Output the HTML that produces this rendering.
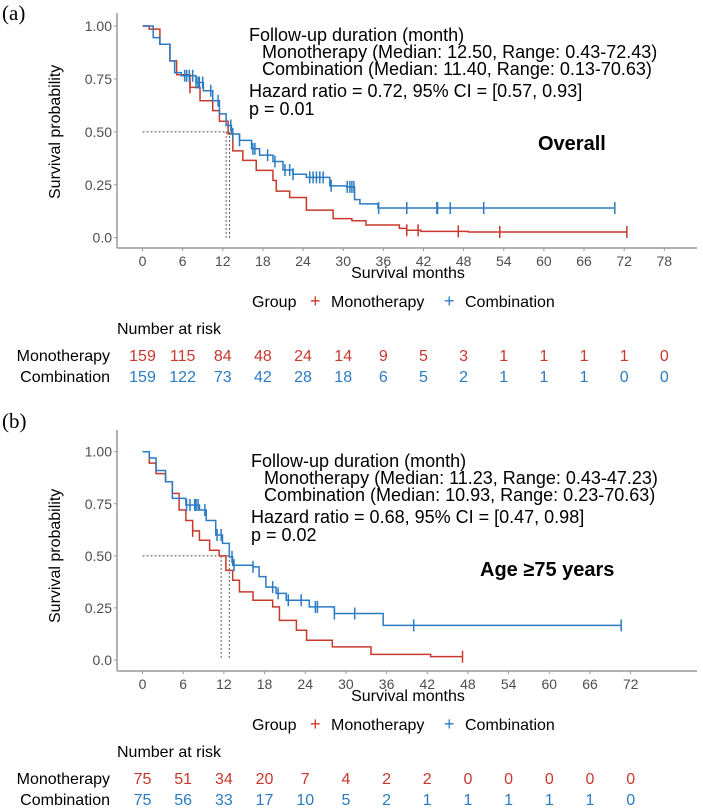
<!DOCTYPE html>
<html><head><meta charset="utf-8">
<style>
body{margin:0;background:#fff;}
svg{display:block;font-family:"Liberation Sans",Arial,sans-serif;}
</style></head>
<body>
<svg id="chart" width="703" height="809" viewBox="0 0 703 809"></svg>
<script>
// ---- Panel A data ----
const aTicks = [0,6,12,18,24,30,36,42,48,54,60,66,72,78];
const aMonoT = [0,1,2.6,4.1,5.1,7.1,8.6,10.5,11.5,12.8,13.5,15,17,19.5,20,22,24.5,28.5,31.3,33.4,38.4,39.5,41.6,48.7,72.4];
const aMonoS = [1,0.985,0.914,0.835,0.77,0.71,0.647,0.6,0.55,0.49,0.41,0.365,0.318,0.27,0.22,0.19,0.13,0.09,0.08,0.06,0.044,0.035,0.03,0.027,0.027];
const aMonoCens = [7.1,39.5,41.2,47.2,53.4,72.4];
const aCombT = [0,1.6,2.6,4.1,4.8,5.8,8,9.1,10.5,11.5,12.5,13.3,14.5,16.3,17.5,19.5,21,22.5,24.5,28,30.5,31.7,32.5,35.2,70.6];
const aCombS = [1,0.945,0.914,0.835,0.78,0.765,0.733,0.694,0.647,0.585,0.53,0.49,0.46,0.42,0.39,0.36,0.32,0.3,0.285,0.245,0.24,0.18,0.16,0.14,0.14];
const aCombCens = [6.3,6.6,7,7.5,8,8.3,8.5,9,10.2,11.3,13.2,13.5,14.5,16.5,16.8,18.7,19.8,21.3,22,22.5,25,25.5,26,26.5,27,28.2,30.6,31,31.3,31.6,35.3,39.5,44,44.1,46,51,70.6];
const aMedians = [12.5,13];
const aRiskMono = [159,115,84,48,24,14,9,5,3,1,1,1,1,0];
const aRiskComb = [159,122,73,42,28,18,6,5,2,1,1,1,0,0];
// ---- Panel B data ----
const bTicks = [0,6,12,18,24,30,36,42,48,54,60,66,72];
const bMonoT = [0,1,2,3.4,4.4,5.4,6.4,7.4,8.4,9.9,11.3,12.3,13.3,14.3,16.3,19.2,20.2,22.7,24.2,28,33.7,42.5,47.2];
const bMonoS = [1,0.945,0.895,0.856,0.8,0.72,0.67,0.62,0.575,0.527,0.5,0.43,0.383,0.327,0.287,0.255,0.19,0.143,0.095,0.063,0.027,0.016,0.016];
const bMonoCens = [7.4,47.2];
const bCombT = [0,1,2,3.4,4.4,6.4,8.4,9.4,10.8,11.8,12.8,13.3,16.3,17.2,18.2,19.7,21.2,24.6,28.3,35.5,70.6];
const bCombS = [1,0.97,0.91,0.856,0.776,0.744,0.72,0.67,0.6,0.56,0.495,0.455,0.447,0.4,0.35,0.32,0.287,0.255,0.223,0.166,0.166];
const bCombCens = [6.5,7,7.7,7.9,8.2,9.2,11,11.6,13.2,13.5,16.3,19.2,20,21.5,23.4,25.5,25.8,28.3,31.3,40,70.6];
const bMedians = [11.6,12.8];
const bRiskMono = [75,51,34,20,7,4,2,2,0,0,0,0,0];
const bRiskComb = [75,56,33,17,10,5,2,1,1,1,1,1,0];

const RED='#c8382c', BLUE='#2b7bc4', NS='http://www.w3.org/2000/svg';
const svg=document.getElementById('chart');
function mk(tag,attrs,parent,text){const e=document.createElementNS(NS,tag);for(const k in attrs)e.setAttribute(k,attrs[k]);if(text!==undefined)e.textContent=text;(parent||svg).appendChild(e);return e;}

function panel(cfg){
  const g=mk('g',{});
  
  
  const x=t=>cfg.x0+cfg.pxm*t, y=s=>cfg.y0-(cfg.y0-cfg.y1)*s;
  const pl=mk('text',{x:2,y:cfg.labelY,'font-family':'Liberation Serif, serif','font-size':21,fill:'#000'},g,cfg.label);
  
  const ya=mk('line',{x1:117,y1:cfg.axTop,x2:117,y2:cfg.axY,stroke:'#999','stroke-width':1.5},g);
  
  const xa=mk('line',{x1:117,y1:cfg.axY,x2:697,y2:cfg.axY,stroke:'#999','stroke-width':1.5},g);
  
  [0,0.25,0.5,0.75,1].forEach(v=>{
    mk('line',{x1:114,x2:117,y1:y(v),y2:y(v),stroke:'#999'},g);
    const t=mk('text',{x:112,y:y(v)+5,'text-anchor':'end','font-size':14,fill:'#4d4d4d'},g,v===0?'0.0':v.toFixed(2));
    
  });
  cfg.ticks.forEach(v=>{
    mk('line',{x1:x(v),x2:x(v),y1:cfg.axY,y2:cfg.axY+3,stroke:'#999'},g);
    const t=mk('text',{x:x(v),y:cfg.axY+18,'text-anchor':'middle','font-size':14,fill:'#4d4d4d'},g,String(v));
    
  });
  const yt=mk('text',{transform:`translate(60,${(cfg.y0+cfg.y1)/2}) rotate(-90)`,'text-anchor':'middle','font-size':16,fill:'#000'},g,'Survival probability');
  
  const xt=mk('text',{x:408,y:cfg.axY+30,'text-anchor':'middle','font-size':16,fill:'#000'},g,'Survival months');
  
  const mmax=Math.max(...cfg.medians);
  const mh=mk('line',{x1:x(0),x2:x(mmax),y1:y(0.5),y2:y(0.5),stroke:'#555','stroke-dasharray':'2,2'},g);
  
  cfg.medians.forEach(m=>{
    const l=mk('line',{x1:x(m),x2:x(m),y1:y(0.5),y2:y(0),stroke:'#555','stroke-dasharray':'2,2'},g);
    
  });
  function curve(T,S,C,col,nm){
    let d=`M${x(T[0])},${y(S[0])}`;
    for(let i=1;i<T.length;i++){d+=`H${x(T[i])}V${y(S[i])}`;}
    const p=mk('path',{d,fill:'none',stroke:col,'stroke-width':1.5},g);
    
    C.forEach(c=>{
      let s=S[0];for(let i=0;i<T.length;i++){if(T[i]<=c)s=S[i];}
      const l=mk('line',{x1:x(c),x2:x(c),y1:y(s)-6,y2:y(s)+6,stroke:col,'stroke-width':1.5},g);
      
    });
  }
  curve(cfg.monoT,cfg.monoS,cfg.monoC,RED,'monotherapy');
  curve(cfg.combT,cfg.combS,cfg.combC,BLUE,'combination');
  const tx=cfg.textX, ty=cfg.textY;
  const lines=[[0,0,'Follow-up duration (month)'],[13,17,cfg.l1],[13,34,cfg.l2],[0,56,cfg.l3],[0,74,cfg.l4]];
  lines.forEach(L=>{const t=mk('text',{x:tx+L[0],y:ty+L[1],'font-size':18,fill:'#000'},g,L[2]);
    });
  const st=mk('text',{x:cfg.subX,y:cfg.subY,'font-size':20,'font-weight':'bold',fill:'#000'},g,cfg.sub);
  
  const ly=cfg.axY+59;
  const lg=mk('g',{},g);
  mk('text',{x:252,y:ly,'font-size':16,fill:'#000'},lg,'Group');
  const e1=mk('text',{x:310,y:ly,'font-size':18,fill:RED},lg,'+');
  mk('text',{x:331,y:ly,'font-size':16,fill:'#000'},lg,'Monotherapy');
  const e2=mk('text',{x:444,y:ly,'font-size':18,fill:BLUE},lg,'+');
  mk('text',{x:465,y:ly,'font-size':16,fill:'#000'},lg,'Combination');
  const rt=mk('text',{x:117,y:cfg.axY+86,'font-size':16,fill:'#000'},g,'Number at risk');
  
  const r1=cfg.axY+113, r2=cfg.axY+134;
  mk('text',{x:110,y:r1,'text-anchor':'end','font-size':16,fill:'#000'},g,'Monotherapy');
  mk('text',{x:110,y:r2,'text-anchor':'end','font-size':16,fill:'#000'},g,'Combination');
  cfg.ticks.forEach((v,i)=>{
    const a=mk('text',{x:x(v),y:r1,'text-anchor':'middle','font-size':16,fill:RED},g,String(cfg.riskM[i]));
    
    const b=mk('text',{x:x(v),y:r2,'text-anchor':'middle','font-size':16,fill:BLUE},g,String(cfg.riskC[i]));
    
  });
}

panel({name:'panel-a-overall',label:'(a)',labelY:20,x0:142.5,pxm:6.69,y0:237.7,y1:26,axTop:13,axY:248,ticks:aTicks,
  monoT:aMonoT,monoS:aMonoS,monoC:aMonoCens,combT:aCombT,combS:aCombS,combC:aCombCens,medians:aMedians,
  textX:249,textY:41,l1:'Monotherapy (Median: 12.50, Range: 0.43-72.43)',l2:'Combination (Median: 11.40, Range: 0.13-70.63)',
  l3:'Hazard ratio = 0.72, 95% CI = [0.57, 0.93]',l4:'p = 0.01',sub:'Overall',subX:538,subY:150,riskM:aRiskMono,riskC:aRiskComb});
panel({name:'panel-b-age75',label:'(b)',labelY:428,x0:142.5,pxm:6.78,y0:660,y1:451.7,axTop:430,axY:671,ticks:bTicks,
  monoT:bMonoT,monoS:bMonoS,monoC:bMonoCens,combT:bCombT,combS:bCombS,combC:bCombCens,medians:bMedians,
  textX:251,textY:467,l1:'Monotherapy (Median: 11.23, Range: 0.43-47.23)',l2:'Combination (Median: 10.93, Range: 0.23-70.63)',
  l3:'Hazard ratio = 0.68, 95% CI = [0.47, 0.98]',l4:'p = 0.02',sub:'Age ≥75 years',subX:480,subY:576,riskM:bRiskMono,riskC:bRiskComb});
</script>
</body></html>
